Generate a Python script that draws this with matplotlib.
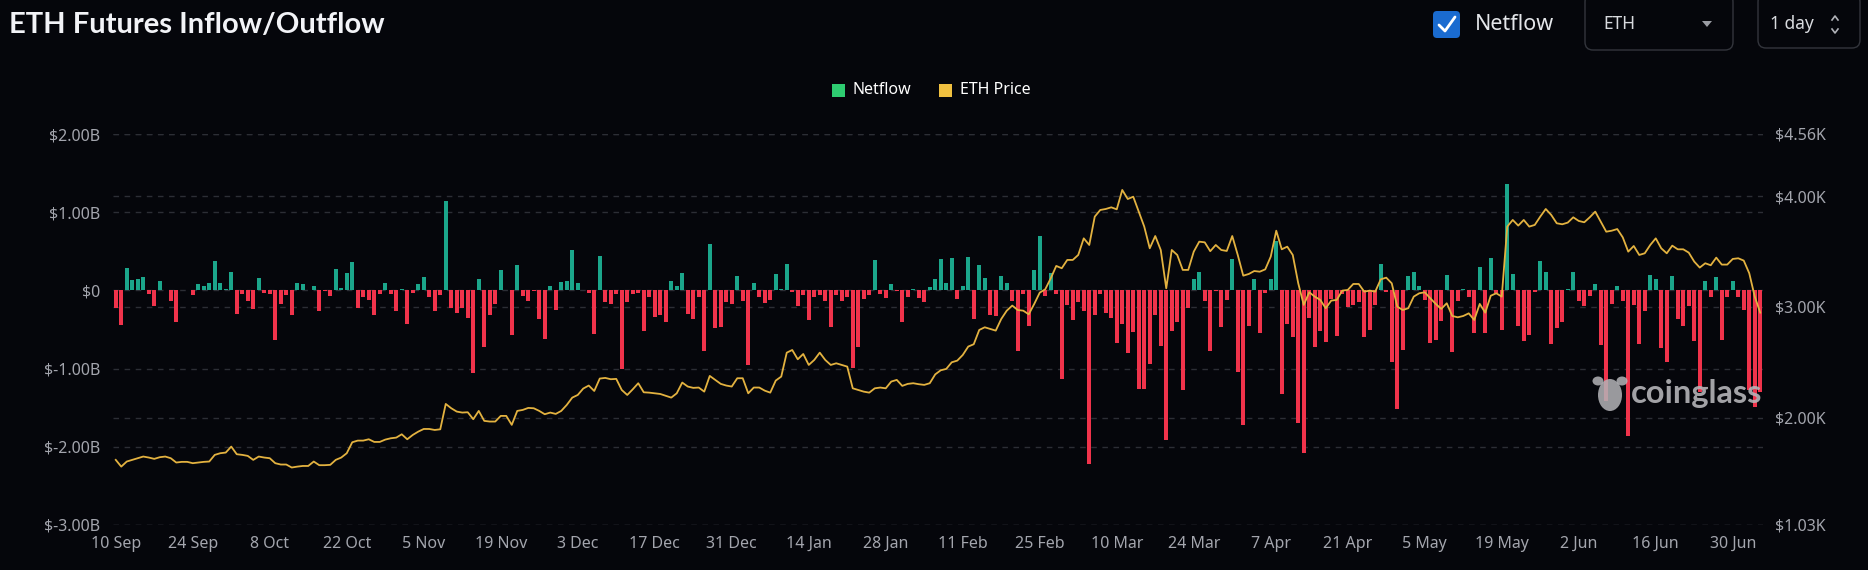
import numpy as np
import pandas as pd
import matplotlib
matplotlib.use('Agg')
import matplotlib.pyplot as plt
from matplotlib.patches import FancyBboxPatch, Rectangle, Ellipse, Polygon

# ── Datos ───────────────────────────────────────────────────────────────────
START = '2023-09-10'

# netflow diario, miles de millones USD
netflow = [
    -0.22, -0.44, 0.29, 0.13, 0.14, 0.17, -0.05, -0.20, 0.12, 0.005,
    -0.14, -0.40, 0.0, 0.01, -0.06, 0.085, 0.05, 0.09, 0.37, 0.09,
    0.02, 0.24, -0.30, -0.05, -0.14, -0.24, 0.16, -0.035, -0.04, -0.64,
    -0.17, -0.06, -0.32, 0.09, 0.08, 0.01, 0.05, -0.26, -0.01, -0.07,
    0.28, 0.03, 0.22, 0.36, -0.22, -0.08, -0.12, -0.31, -0.05, 0.10,
    -0.05, -0.26, 0.02, -0.43, -0.035, 0.08, 0.17, -0.085, -0.26, -0.06,
    1.14, -0.23, -0.29, -0.23, -0.35, -1.06, 0.15, -0.73, -0.32, -0.17,
    0.26, 0.005, -0.57, 0.33, -0.07, -0.14, -0.01, -0.37, -0.62, 0.05,
    -0.25, 0.11, 0.12, 0.52, 0.09, 0.0, -0.03, -0.56, 0.44, -0.15,
    -0.18, -0.04, -1.01, -0.15, -0.04, -0.035, -0.52, -0.08, -0.34, -0.32,
    -0.41, 0.12, 0.05, 0.22, -0.30, -0.37, -0.08, -0.78, 0.59, -0.48,
    -0.47, -0.15, -0.17, 0.19, -0.13, -0.96, 0.10, -0.09, -0.16, -0.12,
    0.21, 0.02, 0.34, -0.02, -0.20, -0.06, -0.38, -0.08, -0.055, -0.14,
    -0.47, -0.055, -0.14, -0.08, -0.99, -0.73, -0.11, -0.06, 0.39, -0.05,
    -0.10, 0.08, -0.01, -0.40, -0.09, 0.02, -0.10, -0.15, 0.04, 0.14,
    0.40, 0.10, 0.42, -0.11, 0.05, 0.43, -0.37, 0.32, 0.16, -0.32,
    -0.33, 0.18, 0.09, -0.14, -0.77, -0.05, -0.46, 0.26, 0.70, -0.07,
    0.22, -0.04, -1.13, -0.19, -0.375, -0.15, -0.26, -2.22, -0.32, -0.05,
    -0.29, -0.35, -0.67, -0.43, -0.80, -0.53, -1.26, -1.26, -0.94, -0.32,
    -0.71, -1.91, -0.52, -0.41, -1.28, -0.22, 0.14, 0.24, -0.14, -0.77,
    -0.01, -0.47, -0.12, 0.40, -1.04, -1.72, -0.45, 0.15, -0.54, -0.03,
    0.15, 0.63, -1.33, -0.43, -0.59, -1.69, -2.08, -0.35, -0.73, -0.52,
    -0.66, -0.115, -0.58, -0.04, -0.21, -0.19, -0.15, -0.60, -0.51, -0.19,
    0.34, -0.02, -0.92, -1.52, -0.76, 0.19, 0.24, 0.06, -0.12, -0.67,
    -0.63, -0.39, 0.20, -0.79, -0.14, 0.02, -0.08, -0.55, 0.30, -0.54,
    0.42, -0.03, -0.51, 1.36, 0.21, -0.45, -0.65, -0.57, -0.02, 0.375,
    0.23, -0.68, -0.48, -0.41, 0.02, 0.23, -0.14, -0.20, -0.07, 0.085,
    -0.70, -1.42, -0.17, 0.055, -0.14, -1.86, -0.19, -0.69, -0.26, 0.20,
    0.14, -0.74, -0.91, 0.18, -0.37, -0.46, -0.20, -0.65, -1.30, 0.12,
    -0.09, 0.17, -0.635, -0.09, 0.12, -0.085, -0.25, -1.27, -1.49, -1.30,
]

# precio ETH diario, miles de USD
eth_price = [
    1.618, 1.557, 1.603, 1.618, 1.633, 1.648, 1.639, 1.627, 1.642, 1.648,
    1.633, 1.594, 1.600, 1.600, 1.588, 1.594, 1.600, 1.603, 1.663, 1.678,
    1.684, 1.738, 1.669, 1.663, 1.654, 1.618, 1.648, 1.639, 1.633, 1.588,
    1.576, 1.576, 1.549, 1.557, 1.563, 1.563, 1.603, 1.570, 1.570, 1.573,
    1.618, 1.639, 1.678, 1.777, 1.792, 1.792, 1.804, 1.780, 1.780, 1.801,
    1.813, 1.819, 1.849, 1.804, 1.843, 1.873, 1.897, 1.897, 1.888, 1.894,
    2.123, 2.084, 2.054, 2.045, 2.048, 1.985, 2.060, 1.970, 1.964, 1.964,
    2.015, 2.015, 1.934, 2.060, 2.069, 2.087, 2.084, 2.060, 2.030, 2.045,
    2.033, 2.060, 2.114, 2.180, 2.204, 2.262, 2.289, 2.240, 2.352, 2.358,
    2.346, 2.349, 2.249, 2.204, 2.255, 2.310, 2.228, 2.225, 2.219, 2.213,
    2.196, 2.180, 2.219, 2.316, 2.280, 2.268, 2.271, 2.234, 2.376, 2.340,
    2.304, 2.289, 2.280, 2.355, 2.355, 2.219, 2.271, 2.271, 2.243, 2.225,
    2.334, 2.370, 2.586, 2.610, 2.526, 2.574, 2.475, 2.520, 2.586, 2.520,
    2.475, 2.490, 2.475, 2.460, 2.264, 2.249, 2.234, 2.225, 2.264, 2.271,
    2.264, 2.325, 2.340, 2.286, 2.304, 2.310, 2.301, 2.295, 2.310, 2.390,
    2.427, 2.439, 2.499, 2.514, 2.565, 2.641, 2.662, 2.791, 2.815, 2.800,
    2.785, 2.890, 2.965, 3.011, 2.971, 2.965, 2.932, 3.026, 3.128, 3.158,
    3.257, 3.369, 3.348, 3.423, 3.423, 3.468, 3.618, 3.558, 3.814, 3.874,
    3.883, 3.898, 3.880, 4.055, 3.973, 3.994, 3.859, 3.724, 3.528, 3.639,
    3.513, 3.167, 3.513, 3.468, 3.333, 3.333, 3.498, 3.588, 3.582, 3.502,
    3.558, 3.513, 3.504, 3.639, 3.468, 3.281, 3.296, 3.323, 3.317, 3.338,
    3.453, 3.687, 3.519, 3.543, 3.468, 3.212, 3.017, 3.131, 3.092, 3.062,
    2.987, 3.056, 3.062, 3.146, 3.152, 3.206, 3.206, 3.137, 3.146, 3.137,
    3.248, 3.263, 3.212, 3.002, 2.971, 2.987, 3.092, 3.122, 3.131, 3.077,
    3.026, 2.981, 3.032, 2.917, 2.905, 2.917, 2.941, 2.881, 3.026, 2.947,
    3.100, 3.122, 3.092, 3.724, 3.784, 3.733, 3.784, 3.724, 3.739, 3.814,
    3.883, 3.829, 3.754, 3.745, 3.760, 3.808, 3.775, 3.763, 3.808, 3.859,
    3.769, 3.678, 3.687, 3.702, 3.627, 3.498, 3.549, 3.468, 3.483, 3.558,
    3.618, 3.528, 3.483, 3.552, 3.519, 3.519, 3.489, 3.408, 3.354, 3.393,
    3.375, 3.444, 3.381, 3.381, 3.432, 3.438, 3.417, 3.303, 3.092, 2.947,
]

left_ticks = [2, 1, 0, -1, -2, -3]
left_labels = ['$2.00B', '$1.00B', '$0', '$-1.00B', '$-2.00B', '$-3.00B']
right_ticks = [4.56, 4.00, 3.00, 2.00, 1.03]
right_labels = ['$4.56K', '$4.00K', '$3.00K', '$2.00K', '$1.03K']
TICK_EVERY = 14

# ── Estilo ──────────────────────────────────────────────────────────────────
BG = '#05060b'
GREEN = '#1ba68b'
RED = '#f0334b'
GOLD = '#e3b240'
GRID = '#2c2e35'
TXT = '#a3a5ad'

plt.rcParams['font.family'] = ['Noto Sans', 'DejaVu Sans']

W, H = 1868, 570
fig = plt.figure(figsize=(W / 100, H / 100), dpi=100, facecolor=BG)
ax = fig.add_axes([113 / W, 45 / H, 1650 / W, 391 / H])
ax.set_facecolor(BG)

x = np.arange(len(netflow))
dates = pd.date_range(START, periods=len(netflow), freq='D')
vals = np.array(netflow)
colors = [GREEN if v >= 0 else RED for v in vals]

ax.set_xlim(-0.5, len(netflow) - 0.5)
ax.set_ylim(-3, 2)
ax2 = ax.twinx()
ax2.set_ylim(1.03, 4.56)

# rejilla (izq. y der.) detrás de las barras
for t in left_ticks:
    ax.axhline(t, color=GRID, lw=1, ls=(0, (4, 4)), zorder=0)
for t in right_ticks:
    y_left = ax.transData.inverted().transform(ax2.transData.transform((0, t)))[1]
    ax.axhline(y_left, color=GRID, lw=1, ls=(0, (4, 4)), zorder=0)

ax.bar(x, vals, width=0.72, color=colors, zorder=2)
ax2.plot(x, eth_price, color=GOLD, lw=1.3, zorder=3)

for a in (ax, ax2):
    for s in a.spines.values():
        s.set_visible(False)
    a.tick_params(length=0, colors=TXT, labelsize=11.5)

ax.set_yticks(left_ticks)
ax.set_yticklabels(left_labels)
ax.tick_params(axis='y', pad=9)
ax2.set_yticks(right_ticks)
ax2.set_yticklabels(right_labels)
ax2.tick_params(axis='y', pad=8.5)

tick_idx = x[::TICK_EVERY]
ax.set_xticks(tick_idx)
ax.set_xticklabels([f'{d.day} {d.strftime("%b")}' for d in dates[::TICK_EVERY]])
ax.tick_params(axis='x', pad=8)

# ── Cabecera / leyenda / marca de agua (coordenadas en píxeles) ─────────────
ov = fig.add_axes([0, 0, 1, 1], facecolor='none')
ov.set_xlim(0, W)
ov.set_ylim(H, 0)
ov.axis('off')

ov.text(9, 25, 'ETH Futures Inflow/Outflow', color='#f2f3f7', fontsize=21,
        fontweight='bold', family=['Lato', 'DejaVu Sans'], va='center', ha='left')

# checkbox Netflow
ov.add_patch(FancyBboxPatch((1433, 11), 27, 27, boxstyle='round,pad=0,rounding_size=4',
                            fc='#1a6bd0', ec='none'))
ov.plot([1439, 1445, 1455], [25, 31, 17], color='white', lw=2, solid_capstyle='round')
ov.text(1475, 25, 'Netflow', color='#e4e6ea', fontsize=15.5, va='center', ha='left')

# selector ETH
ov.add_patch(FancyBboxPatch((1585, -6), 148, 56, boxstyle='round,pad=0,rounding_size=8',
                            fc='none', ec='#33353c', lw=1))
ov.text(1603, 24, 'ETH', color='#d8dade', fontsize=12.5, va='center', ha='left')
ov.add_patch(Polygon([[1702, 21], [1712, 21], [1707, 27]], closed=True, fc='#9a9ca3', ec='none'))

# selector 1 day
ov.add_patch(FancyBboxPatch((1758, -6), 102, 54, boxstyle='round,pad=0,rounding_size=8',
                            fc='none', ec='#33353c', lw=1))
ov.text(1770, 24, '1 day', color='#d8dade', fontsize=12.5, va='center', ha='left')
ov.plot([1832, 1835, 1838], [20, 16, 20], color='#b0b2b8', lw=1.2)
ov.plot([1832, 1835, 1838], [29, 33, 29], color='#b0b2b8', lw=1.2)

# leyenda
ov.add_patch(Rectangle((832, 84), 13, 13, fc='#2ecc71', ec='none'))
ov.text(853, 90.5, 'Netflow', color='white', fontsize=11.5, va='center', ha='left')
ov.add_patch(Rectangle((939, 84), 13, 13, fc='#f0c040', ec='none'))
ov.text(960, 90.5, 'ETH Price', color='white', fontsize=11.5, va='center', ha='left')

# marca de agua
WM = '#b4b4b8'
ov.add_patch(Ellipse((1610, 395), 24, 32, fc=WM, ec='none', alpha=0.85))
ov.add_patch(Ellipse((1598, 381), 11, 9, fc=WM, ec='none', alpha=0.85))
ov.add_patch(Ellipse((1622, 381), 11, 9, fc=WM, ec='none', alpha=0.85))
ov.text(1631, 393, 'coinglass', color=WM, fontsize=23.5, fontweight='bold',
        family=['Lato', 'DejaVu Sans'], va='center', ha='left', alpha=0.9)

fig.savefig('out.png', dpi=100, facecolor=BG)
